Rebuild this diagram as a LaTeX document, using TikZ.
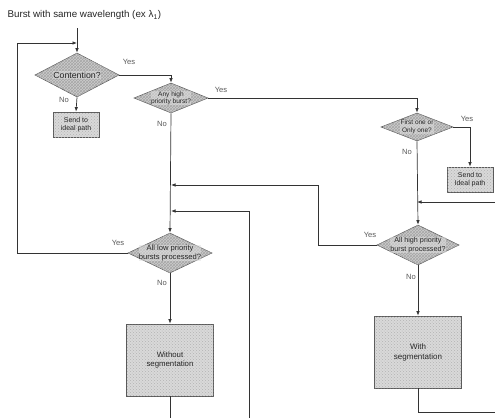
\documentclass[tikz,border=0pt]{standalone}
\usepackage{fontspec}
\setmainfont{Liberation Sans}
\usetikzlibrary{shapes.geometric,arrows.meta,patterns}
\begin{document}
\begin{tikzpicture}[x=1pt,y=-1pt,
  line/.style={draw=black!80, line width=0.7pt},
  arr/.style={line, -{Latex[length=4.5pt,width=3.5pt]}},
  dia/.style={diamond, draw=black!65, line width=0.6pt, fill=gray!40, inner sep=0pt,
    postaction={pattern=crosshatch, pattern color=gray!70}},
  boxs/.style={rectangle, draw=black!65, line width=0.7pt, fill=gray!30, inner sep=0pt,
    postaction={pattern=crosshatch dots, pattern color=gray!60}},
  dtext/.style={text=black!85, align=center, fill=gray!25, fill opacity=0.5, text opacity=1, inner sep=0.3pt},
  btext/.style={text=black!85, align=center},
  lab/.style={font=\fontsize{7.6}{8}\selectfont, text=black!65}
]
\useasboundingbox (0,0) rectangle (495,418);

\node[anchor=west, font=\fontsize{9.8}{11}\selectfont, text=black!85] (title) at (4,15) {Burst with same wavelength (ex λ\textsubscript{1})};

% diamonds
\node[dia, minimum width=84, minimum height=44] (d1) at (77,75) {};
\node[dtext, font=\fontsize{8.8}{10}\selectfont] at (d1) {Contention?};
\node[dia, minimum width=74, minimum height=30] (d2) at (171,98) {};
\node[dtext, font=\fontsize{6.6}{7.4}\selectfont] at (d2) {Any high\\priority burst?};
\node[dia, minimum width=72, minimum height=28] (d3) at (417,127) {};
\node[dtext, font=\fontsize{6.5}{7.4}\selectfont] at (d3) {First one or\\Only one?};
\node[dia, minimum width=84, minimum height=40] (d4) at (170,253) {};
\node[dtext, font=\fontsize{7.6}{8.4}\selectfont] at (d4) {All low priority\\bursts processed?};
\node[dia, minimum width=82, minimum height=40] (d5) at (418,245) {};
\node[dtext, font=\fontsize{7.2}{8.4}\selectfont] at (d5) {All high priority\\burst processed?};

% boxes
\node[boxs, minimum width=46, minimum height=25] (s1) at (76,124.5) {};
\node[btext, font=\fontsize{7}{8.2}\selectfont] at (s1) {Send to\\ideal path};
\node[boxs, minimum width=46, minimum height=25] (s2) at (470,179.5) {};
\node[btext, font=\fontsize{7}{8.2}\selectfont] at (s2) {Send to\\Ideal path};
\node[boxs, minimum width=87, minimum height=72] (b1) at (170,360) {};
\node[btext, font=\fontsize{7.8}{9.5}\selectfont] at (b1) {Without\\segmentation};
\node[boxs, minimum width=87, minimum height=72] (b2) at (418,352) {};
\node[btext, font=\fontsize{8}{10}\selectfont] at (b2) {With\\segmentation};

% coordinates
\coordinate (top) at (77,28);
\coordinate (j1) at (77,43);
\coordinate (left) at (17,43);
\coordinate (j2) at (171,185);
\coordinate (c2) at (318,185);
\coordinate (j3) at (171,211);
\coordinate (c3) at (249,211);
\coordinate (c3b) at (249,418);
\coordinate (j4) at (417,202);
\coordinate (c4) at (495,202);
\coordinate (b1e) at (170,418);
\coordinate (b2e) at (495,412);

% connectors
\draw[arr] (top) -- (d1.north);
\draw[arr] (d4.west) -| (left) -- (j1);
\draw[arr] (d1.east) -| (d2.north);
\draw[arr] (d1.south) -- (s1.north);
\draw[arr] (d2.east) -| (d3.north);
\draw[arr] (d2.south) -- (d4.north);
\draw[arr] (d3.east) -| (s2.north);
\draw[arr] (d3.south) -- (d5.north);
\draw[arr] (c4) -- (j4);
\draw[arr] (d5.west) -| (c2) -- (j2);
\draw[arr] (c3b) -- (c3) -- (j3);
\draw[arr] (d4.south) -- (b1.north);
\draw[arr] (d5.south) -- (b2.north);
\draw[line] (b1.south) -- (b1e);
\draw[line] (b2.south) |- (b2e);

% labels
\node[lab] at (129,62) {Yes};
\node[lab] at (64,100) {No};
\node[lab] at (221,90) {Yes};
\node[lab] at (162,124) {No};
\node[lab] at (467,119) {Yes};
\node[lab] at (407,152) {No};
\node[lab] at (118,243) {Yes};
\node[lab] at (162,283) {No};
\node[lab] at (370,235) {Yes};
\node[lab] at (411,277) {No};
\end{tikzpicture}
\end{document}
